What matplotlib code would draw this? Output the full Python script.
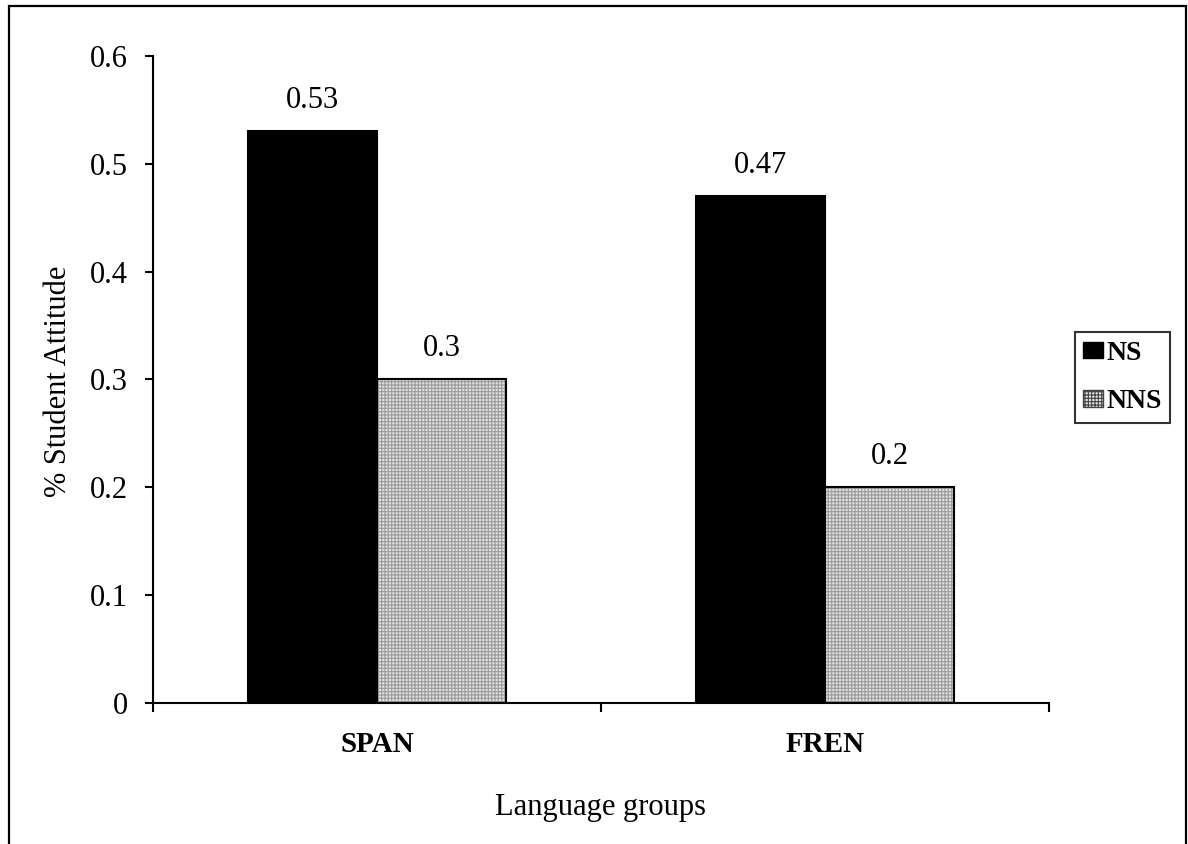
import matplotlib
matplotlib.use('Agg')
from matplotlib import pyplot as plt
from matplotlib.patches import Rectangle, Patch

plt.rcParams['font.family'] = ['Liberation Serif', 'DejaVu Serif']
plt.rcParams['hatch.linewidth'] = 0.8

# Data
groups = ['SPAN', 'FREN']
series = ['NS', 'NNS']
ns_values = [0.53, 0.47]
nns_values = [0.3, 0.2]
y_ticks = [0, 0.1, 0.2, 0.3, 0.4, 0.5, 0.6]

fig = plt.figure(figsize=(11.88, 8.44), dpi=100)
ax = fig.add_axes([0.1288, 0.1671, 0.7542, 0.7666])

# Figure frame (bottom edge runs off the page)
fig.patches.append(Rectangle((0.0076, -0.05), 0.9907, 1.0429, transform=fig.transFigure,
                             fill=False, edgecolor='black', linewidth=1.6, zorder=0))

width = 0.288
centers = [0.5, 1.5]
ns_x = [c - width / 2 for c in centers]
nns_x = [c + width / 2 for c in centers]

ax.bar(ns_x, ns_values, width, color='black', edgecolor='black', linewidth=1.5)
# patterned fill, then outline
ax.bar(nns_x, nns_values, width, color='#e2e2e2', edgecolor='#9a9a9a', hatch='+++++', linewidth=0)
ax.bar(nns_x, nns_values, width, fill=False, edgecolor='black', linewidth=1.5)

for x, v in zip(ns_x + nns_x, ns_values + nns_values):
    ax.text(x, v + 0.0215, f'{v:g}', ha='center', va='baseline', fontsize=22)

ax.set_xlim(0, 2)
ax.set_ylim(0, 0.6)
ax.set_yticks(y_ticks)
ax.set_yticklabels([f'{t:g}' for t in y_ticks], fontsize=22)
ax.set_xticks([0, 1, 2])
ax.set_xticklabels([])
ax.set_xticks(centers, minor=True)
ax.set_xticklabels(groups, minor=True, fontsize=21, fontweight='bold')
ax.tick_params(axis='x', which='minor', length=0, pad=20)
ax.tick_params(axis='x', which='major', direction='out', length=6.5, width=1.5)
ax.tick_params(axis='y', direction='out', length=6, width=1.5, pad=12)

ax.spines['top'].set_visible(False)
ax.spines['right'].set_visible(False)
for s in ['left', 'bottom']:
    ax.spines[s].set_linewidth(1.5)

fig.text(601 / 1188, 1 - 815 / 844, 'Language groups', fontsize=22,
         ha='center', va='baseline')
fig.text(59 / 1188, 1 - 381 / 844, '% Student Attitude', fontsize=22,
         ha='center', va='center', rotation=90)

handles = [Patch(facecolor='black', edgecolor='black'),
           Patch(facecolor='#e2e2e2', edgecolor='#444444', hatch='+++++')]
leg = fig.legend(handles, series, loc='center', bbox_to_anchor=(0.9449, 0.5527),
                 prop={'size': 20, 'weight': 'bold'}, frameon=True, fancybox=False,
                 handlelength=0.72, handleheight=0.55, handletextpad=0.1,
                 borderpad=0.3, labelspacing=0.85, borderaxespad=0)
leg.get_frame().set_edgecolor('black')
leg.get_frame().set_linewidth(1.5)

fig.savefig('out.png', dpi=100)
